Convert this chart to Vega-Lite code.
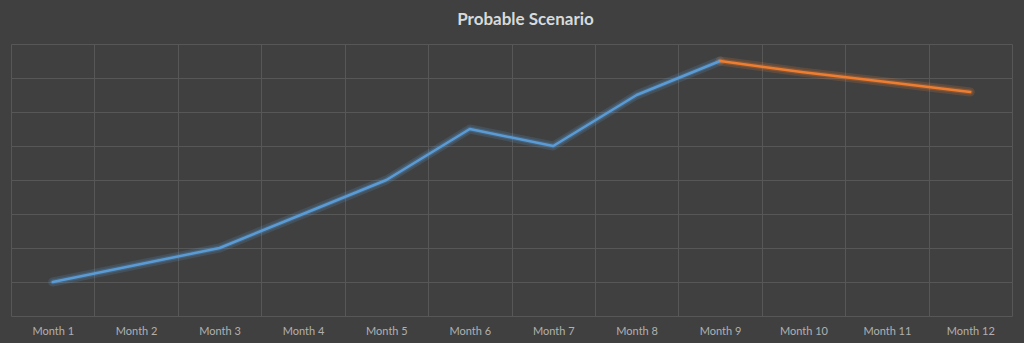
{
  "$schema": "https://vega.github.io/schema/vega-lite/v6.json",
  "width": 1001,
  "height": 272,
  "autosize": {"type": "none"},
  "padding": {"left": 11, "top": 44, "right": 12, "bottom": 27},
  "background": "#404040",
  "config": {"view": {"stroke": null}},
  "title": {
    "text": "Probable Scenario",
    "font": "Lato",
    "fontWeight": "bold",
    "fontSize": 17,
    "color": "#d9d9d9",
    "anchor": "middle",
    "frame": "group",
    "baseline": "alphabetic",
    "offset": 2,
    "dx": 14
  },
  "data": {
    "values": [
      {"month": "Month 1", "value": 1.0, "series": "Actual"},
      {"month": "Month 2", "value": 1.5, "series": "Actual"},
      {"month": "Month 3", "value": 2.0, "series": "Actual"},
      {"month": "Month 4", "value": 3.0, "series": "Actual"},
      {"month": "Month 5", "value": 4.0, "series": "Actual"},
      {"month": "Month 6", "value": 5.5, "series": "Actual"},
      {"month": "Month 7", "value": 5.0, "series": "Actual"},
      {"month": "Month 8", "value": 6.5, "series": "Actual"},
      {"month": "Month 9", "value": 7.5, "series": "Actual"},
      {"month": "Month 9", "value": 7.5, "series": "Probable"},
      {"month": "Month 10", "value": 7.17, "series": "Probable"},
      {"month": "Month 11", "value": 6.88, "series": "Probable"},
      {"month": "Month 12", "value": 6.59, "series": "Probable"}
    ]
  },
  "encoding": {
    "x": {
      "field": "month",
      "type": "nominal",
      "sort": ["Month 1","Month 2","Month 3","Month 4","Month 5","Month 6","Month 7","Month 8","Month 9","Month 10","Month 11","Month 12"],
      "scale": {"type": "band", "paddingInner": 0, "paddingOuter": 0},
      "axis": {
        "title": null,
        "labelAngle": 0,
        "ticks": false,
        "domain": false,
        "grid": true,
        "tickBand": "extent",
        "gridColor": "#575757",
        "gridWidth": 1,
        "labelFont": "Lato",
        "labelFontSize": 11,
        "labelColor": "#b0b0b0",
        "labelPadding": 9
      }
    },
    "y": {
      "field": "value",
      "type": "quantitative",
      "scale": {"domain": [0, 8], "nice": false, "zero": true},
      "axis": {
        "title": null,
        "values": [0,1,2,3,4,5,6,7,8],
        "labels": false,
        "ticks": false,
        "domain": false,
        "grid": true,
        "gridColor": "#575757",
        "gridWidth": 1
      }
    },
    "color": {
      "field": "series",
      "type": "nominal",
      "scale": {"domain": ["Actual", "Probable"], "range": ["#5b9bd5", "#ed7d31"]},
      "legend": null
    }
  },
  "layer": [
    {"mark": {"type": "line", "strokeWidth": 9, "opacity": 0.18, "strokeCap": "round", "strokeJoin": "round"}},
    {"mark": {"type": "line", "strokeWidth": 5, "opacity": 0.25, "strokeCap": "round", "strokeJoin": "round"}},
    {"mark": {"type": "line", "strokeWidth": 2.5, "strokeCap": "round", "strokeJoin": "round"}}
  ]
}
